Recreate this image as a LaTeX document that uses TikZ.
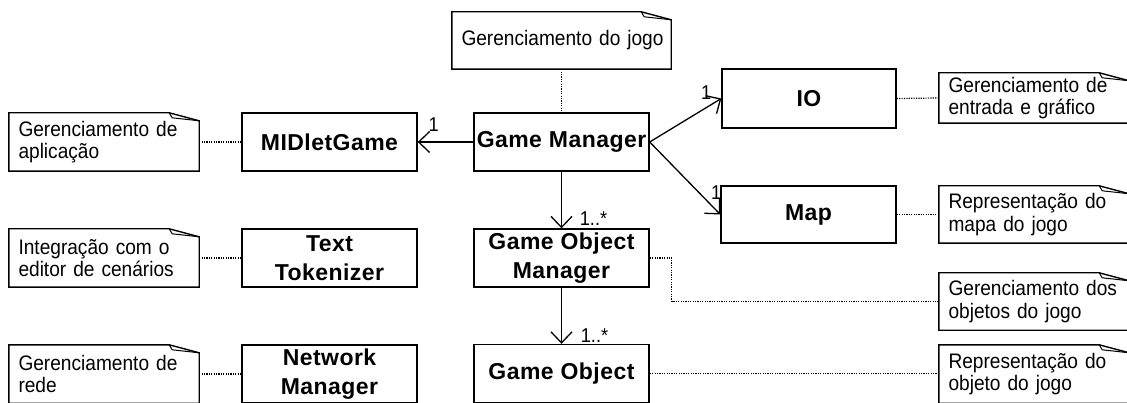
\documentclass[tikz,border=0pt]{standalone}
\usepackage{fontspec}
\setmainfont{Liberation Sans}
\newfontfamily\clsfam[LetterSpace=2]{Liberation Sans}
\newfontfamily\notefam[FakeStretch=0.91]{Liberation Sans}
\usetikzlibrary{arrows.meta}
\tikzset{
 cls/.style={draw, line width=1.4pt, minimum width=175pt, minimum height=58pt, inner sep=0pt, align=center, font=\clsfam\bfseries\fontsize{23}{29}\selectfont},
 notetext/.style={minimum height=58pt, text width=171pt, inner xsep=9.5pt, inner ysep=0pt, align=left, font=\notefam\fontsize{21}{22.5}\selectfont},
 noteline/.style={line width=1.4pt, line join=miter},
 dots/.style={line width=1.2pt, dash pattern=on 1.2pt off 1.2pt},
 assoc/.style={line width=1.3pt, -{Straight Barb[length=11pt,width=21pt,line width=1.3pt]}},
 mult/.style={font=\notefam\fontsize{20}{20}\selectfont, inner sep=0pt},
}
\newcommand\foldnote[1]{%
 \draw[noteline] (#1.north west) -- ([xshift=-30pt]#1.north east) -- ([yshift=-8pt]#1.north east) -- (#1.south east) -- (#1.south west) -- cycle;
 \draw[line width=1pt] ([xshift=-30pt]#1.north east) -- ([xshift=-27pt,yshift=-5pt]#1.north east) -- ([yshift=-8pt]#1.north east);}
\begin{document}
\begin{tikzpicture}[x=1pt,y=-1pt]
\useasboundingbox (0,0) rectangle (1127,403);
\clip (0,0) rectangle (1127,403);
% classes
\node[cls] (mid) at (329.5,142) {MIDletGame};
\node[cls] (tt) at (329.5,258) {Text\\Tokenizer};
\node[cls] (nm) at (329.5,374) {Network\\Manager};
\node[cls] (gm) at (561.5,142) {Game Manager};
\node[cls] (gom) at (561.5,258) {Game Object\\Manager};
\node[cls] (go) at (561.5,373.5) {Game Object};
\node[cls, minimum width=174pt, minimum height=59pt] (io) at (809,98.5) {IO};
\node[cls, minimum height=57pt] (map) at (808.5,214.5) {Map};
% notes
\node[notetext] (n1) at (104,142) {\mbox{Gerenciamento de}\\\mbox{aplicação}};
\node[notetext] (n2) at (104,258) {\mbox{Integração com o}\\\mbox{editor de cenários}};
\node[notetext] (n3) at (104,374) {\mbox{Gerenciamento de}\\\mbox{rede}};
\node[notetext, text width=200pt, minimum height=57pt] (n4) at (561.5,40.5) {\mbox{Gerenciamento do jogo}};
\node[notetext, minimum height=50pt] (n5) at (1034,98) {\mbox{Gerenciamento de}\\\mbox{entrada e gráfico}};
\node[notetext, minimum height=57pt] (n6) at (1034,214.5) {\mbox{Representação do}\\\mbox{mapa do jogo}};
\node[notetext, minimum height=57pt] (n7) at (1034,301.5) {\mbox{Gerenciamento dos}\\\mbox{objetos do jogo}};
\node[notetext] (n8) at (1034,374) {\mbox{Representação do}\\\mbox{objeto do jogo}};
\foldnote{n1}\foldnote{n2}\foldnote{n3}\foldnote{n4}
\foldnote{n5}\foldnote{n6}\foldnote{n7}\foldnote{n8}
% dotted links
\draw[dots] (n1.east) -- (mid.west);
\draw[dots] (n2.east) -- (tt.west);
\draw[dots] (n3.east) -- (nm.west);
\draw[dots] (n4.south) -- (gm.north);
\draw[dots] (io.east) -- (n5.west);
\draw[dots] (map.east) -- (n6.west);
\draw[dots] (gom.east) -- ++(22,0) |- (n7.west);
\draw[dots] (go.east) -- (go.east -| n8.west);
% associations
\draw[assoc] (gm.west) -- (mid.east);
\draw[assoc] (gm.east) -- (io.west);
\draw[assoc] (gm.east) -- (map.west);
\draw[assoc] (gm.south) -- (gom.north);
\draw[assoc] (gom.south) -- (go.north);
\node[mult] (m1) at ([shift={(16,-17)}]mid.east) {1};
\node[mult] (m2) at ([shift={(-15,-6)}]io.west) {1};
\node[mult] (m3) at ([shift={(-4,-22)}]map.west) {1};
\node[mult] (m4) at ([shift={(32,-10)}]gom.north) {1..*};
\node[mult] (m5) at ([shift={(33,-8)}]go.north) {1..*};
\end{tikzpicture}
\end{document}
